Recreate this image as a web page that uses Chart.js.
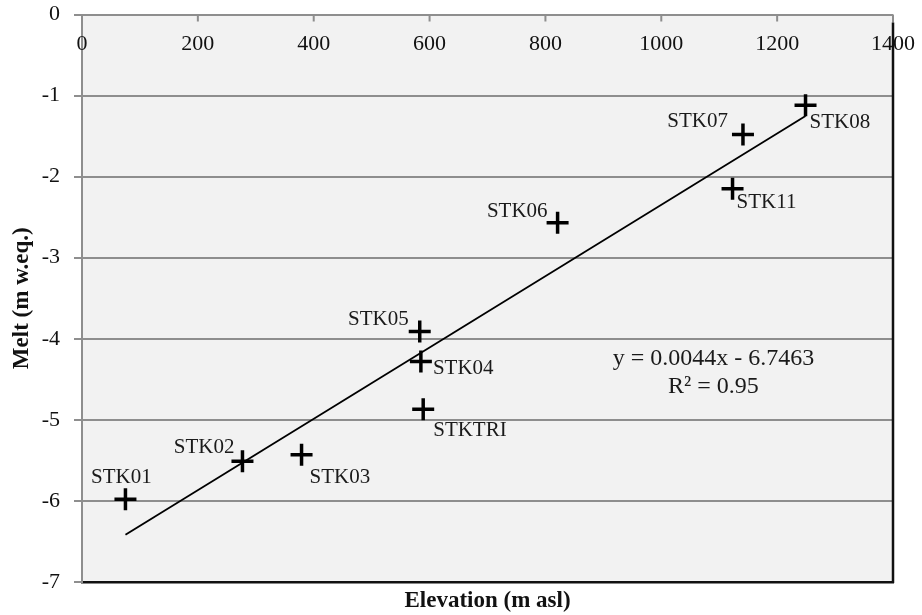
<!DOCTYPE html>
<html>
<head>
<meta charset="utf-8">
<title>Melt vs elevation</title>
<script src="https://cdn.jsdelivr.net/npm/chart.js@4/dist/chart.umd.min.js"></script>
<style>
  html, body { margin: 0; padding: 0; background: #fff; }
  #wrap { width: 922px; height: 615px; position: relative; }
</style>
</head>
<body>
<div id="wrap"><canvas id="meltChart"></canvas></div>
<script>
// ─── Data ─────────────────────────────────────────────────────────────────────
const stations  = ['STK01', 'STK02', 'STK03', 'STK04', 'STK05', 'STK06', 'STK07', 'STK08', 'STK11', 'STKTRI'];
const elevation = [75, 277, 379, 585, 583, 821, 1141, 1249, 1123, 589];
const melt      = [-5.98, -5.51, -5.43, -4.28, -3.91, -2.57, -1.48, -1.12, -2.15, -4.87];

// linear fit reported on the chart
const trendSlope     = 0.0044;
const trendIntercept = -6.7463;
const trendR2        = 0.95;

// ─── Label placement (dx, dy from the marker, text alignment) ────────────────
const labelPlacement = [
  [-4, -22, 'center'], [-8, -14, 'right'], [8, 23, 'left'], [12, 7, 'left'], [-11, -12, 'right'],
  [-10, -11, 'right'], [-15, -13, 'right'], [4, 17, 'left'], [4, 14, 'left'], [10, 21, 'left'],
];

const SERIF = "'Liberation Serif', 'Times New Roman', serif";
const GRID  = '#8e8e8e';

const points = elevation.map((x, i) => ({ x, y: melt[i] }));
const xMin = Math.min(...elevation);
const xMax = Math.max(...elevation);
const trend = [xMin, xMax].map(x => ({ x, y: trendSlope * x + trendIntercept }));

// ─── Plugins ──────────────────────────────────────────────────────────────────

const plotFrame = {
  id: 'plotFrame',
  beforeDraw(chart) {
    const { ctx, chartArea: a } = chart;
    ctx.save();
    ctx.fillStyle = '#f2f2f2';
    ctx.fillRect(a.left, a.top, a.right - a.left, a.bottom - a.top);
    ctx.restore();
  },
  afterDraw(chart) {
    const { ctx, chartArea: a, scales } = chart;
    const xs = scales.x;
    ctx.save();

    // gray frame edge at right, then the black edge over it
    ctx.strokeStyle = GRID;
    ctx.lineWidth = 2;
    ctx.beginPath();
    ctx.moveTo(a.right, a.top);
    ctx.lineTo(a.right, a.top + 8);
    ctx.stroke();
    ctx.strokeStyle = '#111';
    ctx.lineWidth = 2.5;
    ctx.beginPath();
    ctx.moveTo(a.right, a.top + 8);
    ctx.lineTo(a.right, a.bottom + 1);
    ctx.stroke();

    // x axis sits on y = 0 (top): ticks point down, labels below the line
    ctx.strokeStyle = GRID;
    ctx.lineWidth = 2;
    ctx.fillStyle = '#111';
    ctx.font = `22px ${SERIF}`;
    ctx.textAlign = 'center';
    ctx.textBaseline = 'middle';
    xs.ticks.forEach(t => {
      const px = xs.getPixelForValue(t.value);
      if (t.value > xs.min && t.value < xs.max) {
        ctx.beginPath();
        ctx.moveTo(px, a.top);
        ctx.lineTo(px, a.top + 7);
        ctx.stroke();
      }
      ctx.fillText(String(t.value), px, a.top + 30);
    });
    ctx.restore();
  },
  afterDatasetsDraw(chart) {
    const { ctx, scales } = chart;
    const meta = chart.getDatasetMeta(0);
    ctx.save();
    ctx.fillStyle = '#1a1a1a';
    ctx.font = `21px ${SERIF}`;
    ctx.textBaseline = 'middle';
    meta.data.forEach((el, i) => {
      const [dx, dy, align] = labelPlacement[i];
      ctx.textAlign = align;
      ctx.fillText(stations[i], el.x + dx, el.y + dy);
    });

    // fit equation
    const ex = scales.x.getPixelForValue(1090);
    const ey = scales.y.getPixelForValue(-4.24);
    ctx.font = `24px ${SERIF}`;
    ctx.textAlign = 'center';
    ctx.fillText(`y = ${trendSlope}x - ${Math.abs(trendIntercept)}`, ex, ey);
    ctx.fillText(`R² = ${trendR2}`, ex, ey + 28);
    ctx.restore();
  }
};

// ─── Chart ────────────────────────────────────────────────────────────────────

new Chart(document.getElementById('meltChart'), {
  type: 'scatter',
  data: {
    datasets: [
      {
        label: 'Melt',
        data: points,
        pointStyle: 'cross',
        pointRadius: 11,
        pointHoverRadius: 11,
        borderColor: '#000',
        backgroundColor: '#000',
        pointBorderWidth: 3.5,
        order: 0,
      },
      {
        label: 'Linear fit',
        type: 'line',
        data: trend,
        borderColor: '#000',
        borderWidth: 1.8,
        pointRadius: 0,
        fill: false,
        order: 1,
      }
    ]
  },
  options: {
    responsive: true, maintainAspectRatio: false,
    animation: false,
    layout: { padding: { top: 14, right: 29, left: 0, bottom: 0 } },
    plugins: {
      legend: { display: false },
      tooltip: { enabled: false },
    },
    scales: {
      x: {
        type: 'linear', position: 'bottom',
        min: 0, max: 1400,
        ticks: { display: false, stepSize: 200 },
        grid: { display: false },
        border: { display: true, color: '#111', width: 2.5 },
        title: {
          display: true, text: 'Elevation (m asl)', color: '#111',
          font: { family: SERIF, size: 23, weight: 'bold' },
          padding: { top: 0, bottom: 0 }
        },
        afterFit: s => { s.height = 33; }
      },
      y: {
        type: 'linear', position: 'left',
        min: -7, max: 0,
        ticks: {
          stepSize: 1, color: '#111', padding: 14,
          font: { family: SERIF, size: 22 }
        },
        grid: {
          color: ctx => ctx.tick && ctx.tick.value === -7 ? 'rgba(0,0,0,0)' : GRID,
          lineWidth: 2,
          tickColor: GRID,
          tickLength: 8,
        },
        border: { display: true, color: GRID, width: 2 },
        title: {
          display: true, text: 'Melt (m w.eq.)', color: '#111',
          font: { family: SERIF, size: 23, weight: 'bold' },
          padding: { top: 8, bottom: 0 }
        },
        // the "0" label may overhang the top margin
        afterFit: s => { s.width = 82; s.paddingTop = 0; s.paddingBottom = 0; }
      }
    }
  },
  plugins: [plotFrame]
});
</script>
</body>
</html>
